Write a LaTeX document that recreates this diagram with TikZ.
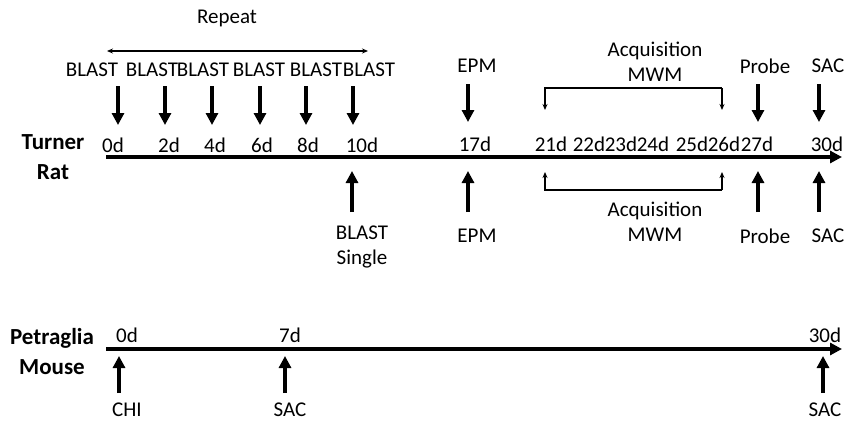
\documentclass[tikz,border=0pt]{standalone}
\usepackage{fontspec}
\setmainfont{Carlito}
\usetikzlibrary{arrows.meta}

\begin{document}
\begin{tikzpicture}[
    x=0.5pt, y=-0.5pt,
    grouplbl/.style={font=\fontsize{11.5}{15}\selectfont\bfseries, align=center, inner sep=0pt},
    evlbl/.style={font=\fontsize{10.5}{12.5}\selectfont, align=center, inner sep=0pt},
    daylbl/.style={font=\fontsize{10.5}{12.5}\selectfont, inner sep=0pt},
    timeline/.style={-{Triangle[length=6pt, width=6pt]}, line width=2pt},
    evarrow/.style={-{Triangle[length=6pt, width=6pt]}, line width=1.8pt},
    bracket/.style={-{Stealth[length=3pt, width=2.5pt]}, line width=0.6pt}
]
\useasboundingbox (0,0) rectangle (848,423);

% Turner Rat
\node[grouplbl] (rat) at (53,157) {Turner\\Rat};
\coordinate (rat0) at (106,157);
\coordinate (rat1) at (842,157);
\draw[timeline] (rat0) -- (rat1);

% Repeated blasts
\node[evlbl] (repeat) at (227,18) {Repeat};
\coordinate (repl) at (107,51);
\coordinate (repr) at (368,51);
\draw[bracket, {Stealth[length=3pt, width=2.5pt]}-{Stealth[length=3pt, width=2.5pt]}] (repl) -- (repr);
\foreach \ax/\lx/\dx/\dd [count=\i] in {118/92/113/0d, 165/152/169/2d, 212/203/215/4d,
                                         260/259/262/6d, 306/316/308/8d, 353/369/362/10d} {
  \node[evlbl] (blast\i) at (\lx,70) {BLAST};
  \node[daylbl] (rday\i) at (\dx,145) {\dd};
  \coordinate (bt\i) at (\ax,86);
  \coordinate (bb\i) at (\ax,125);
  \draw[evarrow] (bt\i) -- (bb\i);
}

% Later days
\foreach \dx/\dd in {475/17d, 551/21d, 589/22d, 621/23d, 653/24d, 692/25d, 724/26d, 757/27d, 827/30d}
  \node[daylbl] (rday\dd) at (\dx,144) {\dd};

% Events above the line
\foreach \ax/\lx/\txt [count=\i] in {468/477/EPM, 758/765/Probe, 819/828/SAC} {
  \node[evlbl] (top\i) at (\lx,66) {\txt};
  \coordinate (tt\i) at (\ax,84);
  \coordinate (tb\i) at (\ax,122);
  \draw[evarrow] (tt\i) -- (tb\i);
}

% Events below the line
\node[evlbl] (single) at (362,247) {BLAST\\Single};
\foreach \ax/\lx/\txt [count=\i] in {468/477/EPM, 758/765/Probe, 819/828/SAC} {
  \node[evlbl] (bot\i) at (\lx,236) {\txt};
}
\foreach \ax [count=\i] in {352, 468, 758, 819} {
  \coordinate (ut\i) at (\ax,212);
  \coordinate (uh\i) at (\ax,171);
  \draw[evarrow] (ut\i) -- (uh\i);
}

% Acquisition MWM brackets
\node[evlbl] (acqtop) at (655,62) {Acquisition\\MWM};
\coordinate (aqtl) at (545,88);
\coordinate (aqtr) at (722,88);
\coordinate (aqtle) at (545,110);
\coordinate (aqtre) at (722,110);
\draw[bracket] (aqtr) -- (aqtl) -- (aqtle);
\draw[bracket] (aqtr) -- (aqtre);

\node[evlbl] (acqbot) at (655,222) {Acquisition\\MWM};
\coordinate (aqbl) at (545,190);
\coordinate (aqbr) at (722,190);
\coordinate (aqble) at (545,172);
\coordinate (aqbre) at (722,172);
\draw[bracket] (aqbr) -- (aqbl) -- (aqble);
\draw[bracket] (aqbr) -- (aqbre);

% Petraglia Mouse
\node[grouplbl] (mouse) at (52,352) {Petraglia\\Mouse};
\coordinate (mou0) at (106,349);
\coordinate (mou1) at (842,349);
\draw[timeline] (mou0) -- (mou1);
\foreach \ax/\dx/\dd/\txt [count=\i] in {119/127/0d/CHI, 285/290/7d/SAC, 823/825/30d/SAC} {
  \node[daylbl] (mday\i) at (\dx,335) {\dd};
  \node[evlbl] (mev\i) at (\dx,410) {\txt};
  \coordinate (mt\i) at (\ax,393);
  \coordinate (mh\i) at (\ax,356);
  \draw[evarrow] (mt\i) -- (mh\i);
}

\end{tikzpicture}
\end{document}
